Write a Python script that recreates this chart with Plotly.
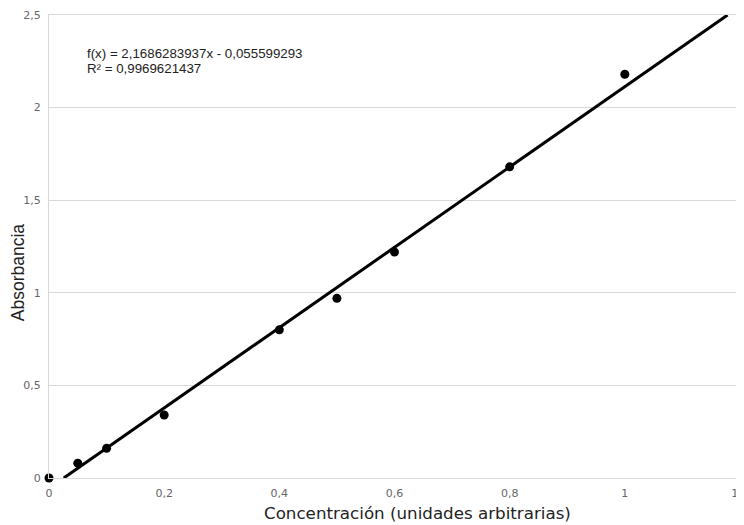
import plotly.graph_objects as go

concentracion = [0, 0.05, 0.1, 0.2, 0.4, 0.5, 0.6, 0.8, 1.0]
absorbancia = [0, 0.08, 0.16, 0.34, 0.80, 0.97, 1.22, 1.68, 2.18]
pendiente = 2.1686283937
intercepto = -0.055599293
r2 = 0.9969621437

y_min, y_max = 0, 2.5
x_min, x_max = 0, 1.2
x_ticks = [0, 0.2, 0.4, 0.6, 0.8, 1, 1.2]
y_ticks = [0, 0.5, 1, 1.5, 2, 2.5]

# trend line limited to visible y range
x0 = max(x_min, (y_min - intercepto) / pendiente)
x1 = min(x_max, (y_max - intercepto) / pendiente)
fit_x = [x0, x1]
fit_y = [pendiente * v + intercepto for v in fit_x]

fig = go.Figure()
fig.add_trace(go.Scatter(x=fit_x, y=fit_y, mode="lines",
                         line=dict(color="black", width=3), showlegend=False))
fig.add_trace(go.Scatter(x=concentracion, y=absorbancia, mode="markers",
                         marker=dict(color="black", size=9), showlegend=False,
                         cliponaxis=False))

grid = "#d9d9d9"
tickfont = dict(family="DejaVu Sans", size=11, color="#666666")
fig.update_layout(
    width=736, height=517, autosize=False,
    margin=dict(l=41, r=4, t=7, b=47),
    plot_bgcolor="white", paper_bgcolor="white",
    separators=",.",
    font=dict(family="DejaVu Sans", color="#555555", size=11),
    xaxis=dict(range=[x_min, x_max], tickvals=x_ticks, showgrid=False, zeroline=False,
               showline=True, mirror=True, linecolor=grid, linewidth=1,
               ticks="", ticklabelstandoff=5, tickfont=tickfont, automargin=False,
               ticklabeloverflow="allow"),
    yaxis=dict(range=[y_min, y_max], tickvals=y_ticks, showgrid=True, gridcolor=grid,
               zeroline=False, showline=True, mirror=True, linecolor=grid, linewidth=1,
               ticks="", ticklabelstandoff=5, tickfont=tickfont, automargin=False,
               ticklabeloverflow="allow"),
)

fig.add_annotation(
    x=0.534, y=-0.0756, xref="paper", yref="paper", xanchor="center", yanchor="middle",
    showarrow=False, text="Concentración (unidades arbitrarias)",
    font=dict(family="DejaVu Sans", size=16.7, color="#222222"),
)
fig.add_annotation(
    x=-0.0445, y=0.445, xref="paper", yref="paper", xanchor="center", yanchor="middle",
    showarrow=False, text="Absorbancia", textangle=-90,
    font=dict(family="Liberation Sans", size=17.5, color="#222222"),
)

eq_font = dict(family="Liberation Sans", size=13.3, color="#222222")
fig.add_annotation(
    x=0.0625, y=2.292, xref="x", yref="y", xanchor="left", yanchor="middle",
    showarrow=False,
    text=f"f(x) = {pendiente:.10f}x - {abs(intercepto):.9f}".replace(".", ","),
    font=eq_font,
)
fig.add_annotation(
    x=0.0625, y=2.211, xref="x", yref="y", xanchor="left", yanchor="middle",
    showarrow=False,
    text=f"R² = {r2:.10f}".replace(".", ","),
    font=eq_font,
)

fig.write_html("out.html")
